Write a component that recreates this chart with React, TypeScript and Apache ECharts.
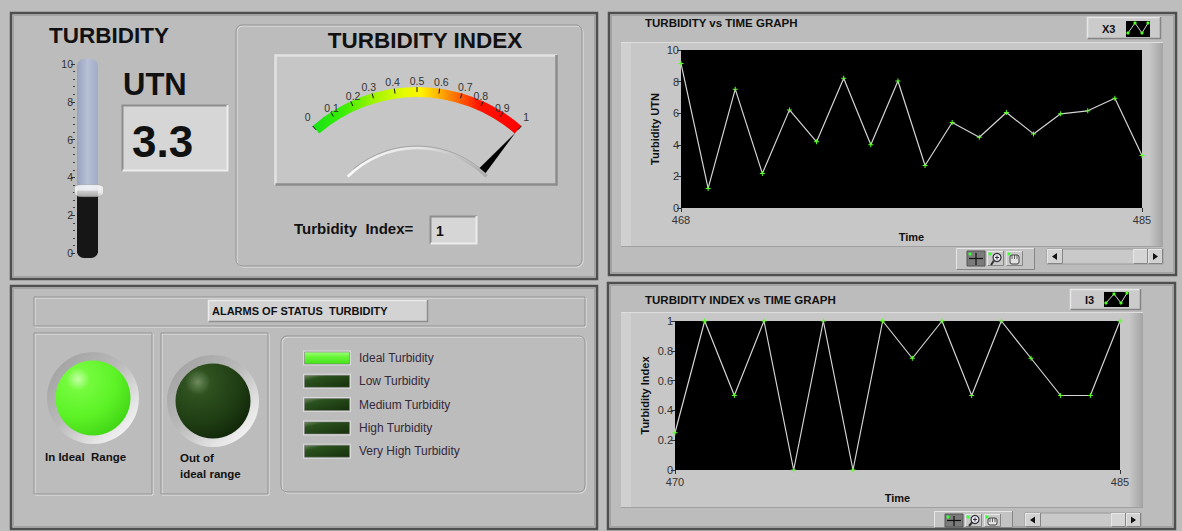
import React, { useEffect, useRef } from "react";
import * as echarts from "echarts";

// ---------------- data ----------------
const utnValue = 3.3;
const indexValue = 1;
const timeUTN = [468, 469, 470, 471, 472, 473, 474, 475, 476, 477, 478, 479, 480, 481, 482, 483, 484, 485];
const turbidityUTN = [9.15, 1.24, 7.52, 2.19, 6.21, 4.19, 8.21, 4.0, 8.04, 2.69, 5.41, 4.48, 6.04, 4.69, 5.96, 6.15, 6.95, 3.33];
const timeIndex = [470, 471, 472, 473, 474, 475, 476, 477, 478, 479, 480, 481, 482, 483, 484, 485];
const turbidityIndex = [0.25, 1, 0.5, 1, 0, 1, 0, 1, 0.75, 1, 0.5, 1, 0.75, 0.5, 0.5, 1];
const utnXTicks = [468, 485];
const indexXTicks = [470, 485];
const alarmLabels = ["Ideal Turbidity", "Low Turbidity", "Medium Turbidity", "High Turbidity", "Very High Turbidity"];
const alarmOn = [true, false, false, false, false];
const ledLabels = ["In Ideal  Range", "Out of\nideal range"];
const ledOn = [true, false];

const F = "'Liberation Sans', Arial, Helvetica, sans-serif";
const PLUS = "path://M2,0H3V2H5V3H3V5H2V3H0V2H2Z";

function lin(x2: number, y2: number, stops: [number, string][]) {
  return { type: "linear", x: 0, y: 0, x2, y2, colorStops: stops.map(([offset, color]) => ({ offset, color })) };
}
function rad(x: number, y: number, r: number, stops: [number, string][]) {
  return { type: "radial", x, y, r, colorStops: stops.map(([offset, color]) => ({ offset, color })) };
}

function buildGraphic() {
  const g: any[] = [];
  const rect = (x: number, y: number, w: number, h: number, style: any, z = -20, r: any = 0) =>
    g.push({ type: "rect", shape: { x, y, width: w, height: h, r }, style, z, silent: true });
  const poly = (points: number[][], stroke: string, lw = 1, z = -15) =>
    g.push({ type: "polyline", shape: { points }, style: { stroke, lineWidth: lw, fill: null }, z, silent: true });
  const line = (x1: number, y1: number, x2: number, y2: number, stroke: string, lw = 1, z = -12) =>
    g.push({ type: "line", shape: { x1, y1, x2, y2 }, style: { stroke, lineWidth: lw }, z, silent: true });
  const text = (x: number, y: number, t: string, o: any = {}) =>
    g.push({
      type: "text", x, y, z: o.z ?? 20, silent: true,
      style: {
        text: t, fontFamily: F, fontSize: o.size ?? 11, fontWeight: o.weight ?? "bold",
        fill: o.color ?? "#111", align: o.align ?? "left", verticalAlign: o.va ?? "middle",
        lineHeight: o.lh,
      },
    });
  const raised = (x: number, y: number, w: number, h: number, fill: any, lw = 1.5, z = -18, light = "#e6e6e6", dark = "#858585") => {
    rect(x, y, w, h, { fill }, z);
    poly([[x + 0.5, y + h], [x + 0.5, y + 0.5], [x + w, y + 0.5]], light, lw, z + 1);
    poly([[x + 0.5, y + h - 0.5], [x + w - 0.5, y + h - 0.5], [x + w - 0.5, y]], dark, lw, z + 1);
  };
  const sunken = (x: number, y: number, w: number, h: number, fill: any, lw = 2, z = -18) =>
    raised(x, y, w, h, fill, lw, z, "#8d8d8d", "#ececec");
  const groove = (x: number, y: number, w: number, h: number, r = 0, z = -18) => {
    rect(x + 1, y + 1, w, h, { fill: "none", stroke: "#e4e4e4", lineWidth: 1 }, z, r);
    rect(x, y, w, h, { fill: "none", stroke: "#939393", lineWidth: 1 }, z + 1, r);
  };
  const panel = (x: number, y: number, w: number, h: number) => {
    rect(x, y, w, h, { fill: "#bcbcbc", stroke: "#4f4f4f", lineWidth: 2.5 }, -30);
    rect(x + 2.5, y + 2.5, w - 5, h - 5, { fill: "none", stroke: "#a2a2a2", lineWidth: 1 }, -29);
  };
  const bezel = (x: number, y: number, w: number, h: number) => {
    rect(x, y, w, h, { fill: "#c7c7c7" }, -25);
    rect(x, y, 10, h, { fill: "#d0d0d0" }, -24);
    rect(x + w - 14, y, 14, h, { fill: lin(1, 0, [[0, "#c7c7c7"], [1, "#a4a4a4"]]) }, -24);
    poly([[x, y + 0.5], [x + w, y + 0.5]], "#dedede", 1, -23);
    poly([[x, y + h - 0.5], [x + w, y + h - 0.5]], "#a0a0a0", 1, -23);
  };
  const toolbar = (x: number, y: number, h: number) => {
    raised(x, y, 79, h, "#c3c3c3", 1, -14);
    const by = y + 3;
    const bh = Math.min(15, h - 4);
    rect(x + 11, by, 18, bh, { fill: "#7b7b7b", stroke: "#555", lineWidth: 1 }, -12);
    line(x + 20, by + 2, x + 20, by + bh - 1, "#111", 1.2, -11);
    line(x + 13, by + bh / 2, x + 27, by + bh / 2, "#111", 1.2, -11);
    g.push({ type: "circle", shape: { cx: x + 14, cy: by + 3, r: 1.6 }, style: { fill: "#3cff3c" }, z: -10, silent: true });
    raised(x + 31, by, 17, bh, "#c9c9c9", 1, -12);
    g.push({ type: "circle", shape: { cx: x + 41, cy: by + bh / 2 - 1, r: 4 }, style: { fill: "#e9e9f7", stroke: "#333", lineWidth: 1.2 }, z: -10, silent: true });
    line(x + 38, by + bh / 2 + 2, x + 35, by + bh - 1, "#333", 2, -10);
    line(x + 39, by + bh / 2 - 1, x + 43, by + bh / 2 - 1, "#333", 1, -9);
    line(x + 41, by + bh / 2 - 3, x + 41, by + bh / 2 + 1, "#333", 1, -9);
    g.push({ type: "circle", shape: { cx: x + 34, cy: by + 3, r: 1.6 }, style: { fill: "#3cff3c" }, z: -9, silent: true });
    raised(x + 50, by, 17, bh, "#c9c9c9", 1, -12);
    rect(x + 54, by + 4, 9, bh - 6, { fill: "#e2e2e2", stroke: "#444", lineWidth: 1 }, -10, 2);
    line(x + 56, by + 4, x + 56, by + 8, "#444", 0.8, -9);
    line(x + 58.5, by + 4, x + 58.5, by + 8, "#444", 0.8, -9);
    line(x + 61, by + 4, x + 61, by + 8, "#444", 0.8, -9);
    g.push({ type: "circle", shape: { cx: x + 53, cy: by + 3, r: 1.6 }, style: { fill: "#3cff3c" }, z: -9, silent: true });
  };
  const scrollbar = (x: number, y: number, w: number, h: number) => {
    rect(x, y, w, h, { fill: "#c9c9c9", stroke: "#9a9a9a", lineWidth: 1 }, -14);
    raised(x, y, 16, h, "#d2d2d2", 1, -13);
    g.push({ type: "polygon", shape: { points: [[x + 5, y + h / 2], [x + 10, y + h / 2 - 3.5], [x + 10, y + h / 2 + 3.5]] }, style: { fill: "#111" }, z: -10, silent: true });
    raised(x + w - 30, y, 15, h, "#d5d5d5", 1, -13);
    raised(x + w - 15, y, 15, h, "#d2d2d2", 1, -13);
    g.push({ type: "polygon", shape: { points: [[x + w - 5, y + h / 2], [x + w - 10, y + h / 2 - 3.5], [x + w - 10, y + h / 2 + 3.5]] }, style: { fill: "#111" }, z: -10, silent: true });
  };
  const legendBox = (x: number, y: number, w: number, h: number, label: string, ix: number, iy: number, iw: number, ih: number, pts: number[][]) => {
    raised(x, y, w, h, "#cbcbcb", 1.5, -14);
    text(x + 15, y + h / 2 + 0.5, label, { size: 11 });
    rect(ix, iy, iw, ih, { fill: "#000" }, -10);
    g.push({ type: "polyline", shape: { points: pts }, style: { stroke: "#cfcfcf", lineWidth: 1, fill: null }, z: -9, silent: true });
    pts.forEach(([px, py]) => g.push({ type: "circle", shape: { cx: px, cy: py, r: 1.6 }, style: { fill: "#52ff22" }, z: -8, silent: true }));
  };

  // ---------- panels ----------
  panel(11, 13, 586, 266);
  panel(11, 286, 586, 243);
  panel(609, 13, 567, 262);
  panel(608, 283, 567, 246);

  // ---------- top-left: turbidity tank ----------
  text(49, 35, "TURBIDITY", { size: 22.5 });
  rect(77, 59, 21, 199, { fill: lin(1, 0, [[0, "#97a3bd"], [0.5, "#b6c0d6"], [1, "#a1acc5"]]) }, -16, 7);
  rect(77, 236, 21, 22, { fill: "#161616" }, -15, [0, 0, 7, 7]);
  text(123, 84, "UTN", { size: 31 });
  sunken(122, 105, 106, 66, "#d6d6d6", 2);
  text(132, 141, utnValue.toFixed(1), { size: 44 });

  // ---------- top-left: turbidity index ----------
  groove(236, 25, 346, 241, 6);
  text(425, 40, "TURBIDITY INDEX", { size: 22.5, align: "center" });
  raised(275, 55, 282, 130, "#c6c6c6", 2.5, -19, "#e2e2e2", "#8c8c8c");
  g.push({
    type: "arc", shape: { cx: 417, cy: 246, r: 98, startAngle: -Math.PI * 0.75, endAngle: -Math.PI * 0.25, clockwise: true },
    style: { stroke: lin(1, 0, [[0, "#fbfbfb"], [0.55, "#e2e2e2"], [1, "#a9a9a9"]]), lineWidth: 2.5, fill: null }, z: -12, silent: true,
  });
  g.push({
    type: "arc", shape: { cx: 417, cy: 246, r: 100, startAngle: -Math.PI * 0.72, endAngle: -Math.PI * 0.25, clockwise: true },
    style: { stroke: "#9d9d9d", lineWidth: 0.8, fill: null }, z: -11, silent: true,
  });
  text(294, 228, "Turbidity  Index=", { size: 15 });
  sunken(430, 216, 47, 28, "#d6d6d6", 2);
  text(436, 231, String(indexValue), { size: 14 });

  // ---------- bottom-left: alarms ----------
  groove(34, 297, 551, 29);
  raised(208, 300, 220, 22, "#d3d3d3", 1.5, -16, "#ececec", "#8e8e8e");
  text(212, 311, "ALARMS OF STATUS  TURBIDITY", { size: 11 });
  groove(34, 333, 118, 161);
  groove(161, 333, 107, 161);
  groove(281, 336, 304, 156, 6);

  const ledPos = [[93, 398], [213, 401]];
  ledPos.forEach(([cx, cy], i) => {
    g.push({ type: "circle", shape: { cx, cy, r: 46 }, style: { fill: lin(1, 1, [[0, "#9c9c9c"], [0.45, "#b9b9b9"], [0.75, "#e4e4e4"], [1, "#ffffff"]]) }, z: -16, silent: true });
    g.push({
      type: "circle", shape: { cx, cy, r: 37.5 }, z: -15, silent: true,
      style: {
        fill: ledOn[i]
          ? rad(0.3, 0.25, 0.85, [[0, "#c4ffa6"], [0.18, "#74fb3d"], [0.6, "#5cf226"], [1, "#3fd314"]])
          : rad(0.3, 0.25, 0.85, [[0, "#6d8a5d"], [0.2, "#2f5220"], [0.65, "#1f3d13"], [1, "#0f2408"]]),
      },
    });
  });
  text(45, 457, ledLabels[0], { size: 11.5 });
  text(180, 466, ledLabels[1], { size: 11.5, lh: 16 });

  alarmLabels.forEach((lab, i) => {
    const cy = 358 + i * 23.3;
    rect(303, cy - 7.5, 48, 15, { fill: "#dadada" }, -14);
    rect(304.5, cy - 6, 45, 12, {
      fill: alarmOn[i]
        ? lin(0, 1, [[0, "#a6ff84"], [0.35, "#6cf83c"], [1, "#45e21a"]])
        : lin(1, 1, [[0, "#6e8c5e"], [0.25, "#2c5220"], [1, "#143009"]]),
      stroke: "#7a7a7a", lineWidth: 0.6,
    }, -13);
    text(359, cy, lab, { size: 12, weight: "normal", color: "#34283a" });
  });

  // ---------- right: graph 1 ----------
  text(645, 23, "TURBIDITY vs TIME GRAPH", { size: 11.5 });
  legendBox(1087, 17, 74, 22, "X3", 1126, 21, 24, 16, [[1128, 33], [1135, 23], [1142, 33], [1148, 23]]);
  bezel(621, 42, 542, 205);
  toolbar(956, 248, 22);
  scrollbar(1047, 249, 116, 15);

  // ---------- right: graph 2 ----------
  text(645, 300, "TURBIDITY INDEX vs TIME GRAPH", { size: 11.5 });
  legendBox(1070, 289, 71, 21, "I3", 1104, 292, 25, 15, [[1106, 303], [1114, 294], [1121, 303], [1127, 293]]);
  bezel(621, 312, 522, 196);
  toolbar(934, 511, 17);
  scrollbar(1025, 513, 116, 14);

  return g;
}

function valueAxis(gridIndex: number, min: number, max: number, ticks: number[], nameGap: number) {
  return {
    gridIndex, type: "value", min, max,
    axisLine: { show: false },
    splitLine: { show: false },
    axisTick: { show: true, length: 4, customValues: ticks, lineStyle: { color: "#333" } },
    axisLabel: { customValues: ticks, margin: 6, fontSize: 11, color: "#333", fontFamily: F },
    name: "Time", nameLocation: "middle", nameGap,
    nameTextStyle: { fontSize: 11, fontWeight: "bold", color: "#111", fontFamily: F },
  };
}

function yValueAxis(gridIndex: number, max: number, interval: number, name: string, nameGap: number) {
  return {
    gridIndex, type: "value", min: 0, max, interval,
    axisLine: { show: false },
    splitLine: { show: false },
    axisTick: { show: true, length: 4, lineStyle: { color: "#333" } },
    axisLabel: { margin: 2, fontSize: 11, color: "#333", fontFamily: F },
    name, nameLocation: "middle", nameGap,
    nameTextStyle: { fontSize: 11, fontWeight: "bold", color: "#111", fontFamily: F },
  };
}

export default function App() {
  const ref = useRef<HTMLDivElement>(null);
  useEffect(() => {
    if (!ref.current) return;
    const chart = echarts.init(ref.current, null, { renderer: "svg" });
    const bandGradient = new echarts.graphic.LinearGradient(0, 0, 1, 0, [
      { offset: 0, color: "#16e216" },
      { offset: 0.15, color: "#3cee05" },
      { offset: 0.3, color: "#a4f500" },
      { offset: 0.44, color: "#e6fc00" },
      { offset: 0.52, color: "#fff200" },
      { offset: 0.62, color: "#ffa600" },
      { offset: 0.72, color: "#ff5200" },
      { offset: 0.8, color: "#ff1500" },
      { offset: 1, color: "#ff0000" },
    ]);
    chart.setOption({
      animation: false,
      backgroundColor: "#bdbdbd",
      textStyle: { fontFamily: F },
      grid: [
        { left: 77, top: 64, width: 21, height: 189, show: false, outerBoundsMode: "none" },
        { left: 681, top: 50, width: 461, height: 158, show: true, backgroundColor: "#000", borderWidth: 0, outerBoundsMode: "none" },
        { left: 675, top: 321, width: 445, height: 149, show: true, backgroundColor: "#000", borderWidth: 0, outerBoundsMode: "none" },
      ],
      xAxis: [
        { gridIndex: 0, type: "category", data: ["UTN"], show: false },
        valueAxis(1, timeUTN[0], timeUTN[timeUTN.length - 1], utnXTicks, 23),
        valueAxis(2, timeIndex[0], timeIndex[timeIndex.length - 1], indexXTicks, 22),
      ],
      yAxis: [
        {
          gridIndex: 0, type: "value", min: 0, max: 10, interval: 2, offset: 2,
          axisLine: { show: false },
          splitLine: { show: false },
          axisTick: { show: true, length: 4, lineStyle: { color: "#333" } },
          minorTick: { show: true, splitNumber: 5, length: 2, lineStyle: { color: "#444" } },
          minorSplitLine: { show: false },
          axisLabel: { margin: 2, fontSize: 10.5, color: "#333", fontFamily: F },
        },
        yValueAxis(1, 10, 2, "Turbidity UTN", 21),
        yValueAxis(2, 1, 0.2, "Turbidity Index", 25),
      ],
      series: [
        {
          type: "bar", xAxisIndex: 0, yAxisIndex: 0, data: [utnValue], barWidth: 21,
          itemStyle: { color: "#161616" }, silent: true, z: 3,
        },
        {
          type: "scatter", xAxisIndex: 0, yAxisIndex: 0, data: [[0, utnValue]],
          symbol: "roundRect", symbolSize: [29, 12], symbolOffset: [1.5, 0], silent: true, z: 5,
          itemStyle: { color: lin(0, 1, [[0, "#ffffff"], [0.6, "#f6f6f6"], [1, "#cfcfcf"]]), borderColor: "#9a9a9a", borderWidth: 0.5 },
        },
        {
          type: "line", name: "X3", xAxisIndex: 1, yAxisIndex: 1,
          data: timeUTN.map((t, i) => [t, turbidityUTN[i]]),
          symbol: PLUS, symbolSize: 5, showAllSymbol: true,
          itemStyle: { color: "#5cff2a" }, lineStyle: { color: "#d4d4d4", width: 1.2 }, silent: true,
        },
        {
          type: "line", name: "I3", xAxisIndex: 2, yAxisIndex: 2,
          data: timeIndex.map((t, i) => [t, turbidityIndex[i]]),
          symbol: PLUS, symbolSize: 5, showAllSymbol: true,
          itemStyle: { color: "#5cff2a" }, lineStyle: { color: "#d4d4d4", width: 1.2 }, silent: true,
        },
        {
          type: "gauge", center: [417, 246], radius: 159, startAngle: 131, endAngle: 49,
          min: 0, max: 1, splitNumber: 10, silent: true,
          axisLine: { show: true, roundCap: false, lineStyle: { width: 10, color: [[1, bandGradient]] } },
          progress: { show: false },
          axisTick: { show: false },
          splitLine: { show: true, length: 5, distance: -10, lineStyle: { color: "#111", width: 1 } },
          axisLabel: { distance: -7, fontSize: 10.5, color: "#333", fontFamily: F },
          pointer: { show: true, icon: "triangle", width: 8, length: 50, offsetCenter: [0, -100], itemStyle: { color: "#000" } },
          anchor: { show: false }, title: { show: false }, detail: { show: false },
          data: [{ value: indexValue }],
        },
      ],
      graphic: { elements: buildGraphic() },
    });
    return () => chart.dispose();
  }, []);
  return <div ref={ref} style={{ width: 1182, height: 531, position: "fixed", left: 0, top: 0 }} />;
}
